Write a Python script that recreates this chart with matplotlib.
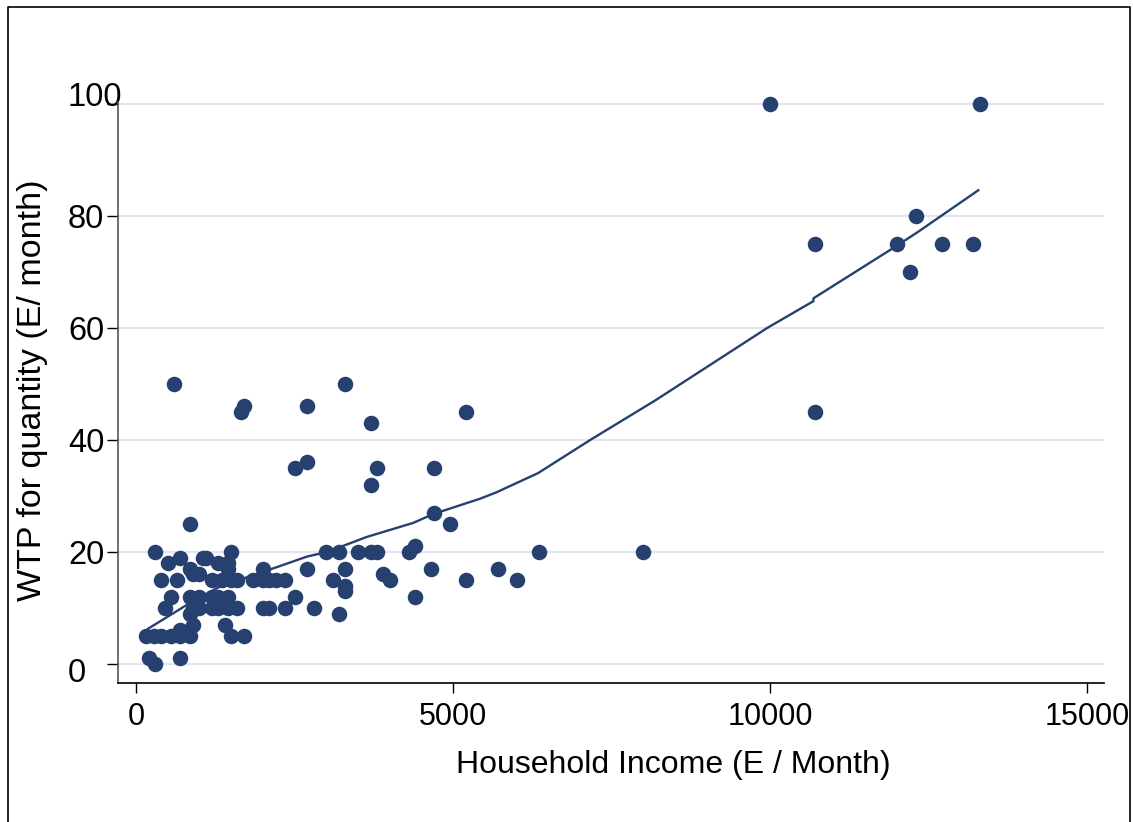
import matplotlib.pyplot as plt
import matplotlib.transforms as mtransforms
from matplotlib.lines import Line2D

plt.rcParams['font.family'] = ['Liberation Sans', 'DejaVu Sans']

# household income (E / month) and WTP for quantity (E / month)
income = [150, 280, 400, 550, 700, 850, 1500, 1700,
          700, 200, 300, 700,
          900, 1400, 850, 3200,
          450, 900, 1000, 1200, 1300, 1450, 1600, 2000, 2100, 2350, 2800,
          550, 850, 1000, 1200, 1300, 1450, 2500, 4400,
          3300, 3300,
          400, 650, 1200, 1350, 1500, 1600, 1850, 2000, 2100, 2200, 2350,
          3100, 4000, 5200, 6000,
          900, 1000, 3900,
          850, 1450, 2000, 2700, 3300, 4650, 5700,
          500, 1300, 1450,
          700, 1050, 1100,
          300, 1500, 3000, 3200, 3500, 3700, 3800, 4300, 6350, 8000,
          4400, 850, 4950, 4700, 3700,
          2500, 3800, 4700, 2700, 3700,
          1650, 5200, 10700, 1700, 2700, 600, 3300,
          10000, 13300, 10700, 12000, 12700, 13200, 12300, 12200]
wtp = [5, 5, 5, 5, 5, 5, 5, 5,
       6, 1, 0, 1,
       7, 7, 9, 9,
       10, 10, 10, 10, 10, 10, 10, 10, 10, 10, 10,
       12, 12, 12, 12, 12, 12, 12, 12,
       13, 14,
       15, 15, 15, 15, 15, 15, 15, 15, 15, 15, 15,
       15, 15, 15, 15,
       16, 16, 16,
       17, 17, 17, 17, 17, 17, 17,
       18, 18, 18,
       19, 19, 19,
       20, 20, 20, 20, 20, 20, 20, 20, 20, 20,
       21, 25, 25, 27, 32,
       35, 35, 35, 36, 43,
       45, 45, 45, 46, 46, 50, 50,
       100, 100, 75, 75, 75, 75, 80, 70]

# smoothed fit
fit_x = [190, 850, 1320, 1750, 2220, 2700, 3010, 3640, 4370, 4690, 5420,
         5690, 6340, 7160, 8190, 9950, 10680, 10680, 11940, 12320, 13280]
fit_y = [6.3, 10.9, 13.8, 15.5, 17.3, 19.2, 20.0, 22.7, 25.2, 26.8, 29.5,
         30.7, 34.1, 40.0, 47.1, 60.0, 64.8, 65.3, 74.3, 77.1, 84.6]

navy = '#26406f'
W, H = 1133, 822

fig = plt.figure(figsize=(W / 100, H / 100), dpi=100)
ax = fig.add_axes([118 / W, 1 - 683 / H, (1104 - 118) / W, (683 - 102) / H])

ax.set_xlim(-284, 15261)
ax.set_ylim(-3.39, 100.36)

for g in range(0, 101, 20):
    ax.axhline(g, color='#e2e4f0', lw=1.6, zorder=0)

ax.scatter(income, wtp, s=125, color=navy, linewidths=0, zorder=3, clip_on=False)
ax.plot(fit_x, fit_y, color=navy, lw=1.7, zorder=4)

ax.spines['top'].set_visible(False)
ax.spines['right'].set_visible(False)
ax.spines['left'].set_color('#555555')
ax.spines['bottom'].set_color('black')
ax.spines['left'].set_linewidth(1.2)
ax.spines['bottom'].set_linewidth(1.2)

ax.set_xticks([0, 5000, 10000, 15000])
ax.set_yticks([0, 20, 40, 60, 80, 100])
ax.tick_params(axis='x', length=7.5, width=1, pad=6.5, labelsize=22)
ax.tick_params(axis='y', length=8, width=1, pad=28, labelsize=23.5)

for lab in ax.get_yticklabels():
    lab.set_horizontalalignment('left')
ylabs = ax.get_yticklabels()
ylabs[0].set_transform(ylabs[0].get_transform()
                       + mtransforms.ScaledTranslation(0, -6 / 100, fig.dpi_scale_trans))
ylabs[-1].set_transform(ylabs[-1].get_transform()
                        + mtransforms.ScaledTranslation(0, 10 / 100, fig.dpi_scale_trans))

ax.set_xlabel('Household Income (E / Month)', fontsize=23)
ax.xaxis.set_label_coords((673 - 118) / 986, (683 - 750) / 581)
ax.set_ylabel('WTP for quantity (E/ month)', fontsize=24.5)
ax.yaxis.set_label_coords((48 - 118) / 986, (683 - 390) / 581)

# outer frame
fx = [7.5 / W, 7.5 / W, 1130 / W, 1130 / W]
fy = [0, 1 - 7.5 / H, 1 - 7.5 / H, 0]
fig.add_artist(Line2D(fx, fy, transform=fig.transFigure, color='black', lw=1.2))

fig.savefig('out.png', dpi=100)
